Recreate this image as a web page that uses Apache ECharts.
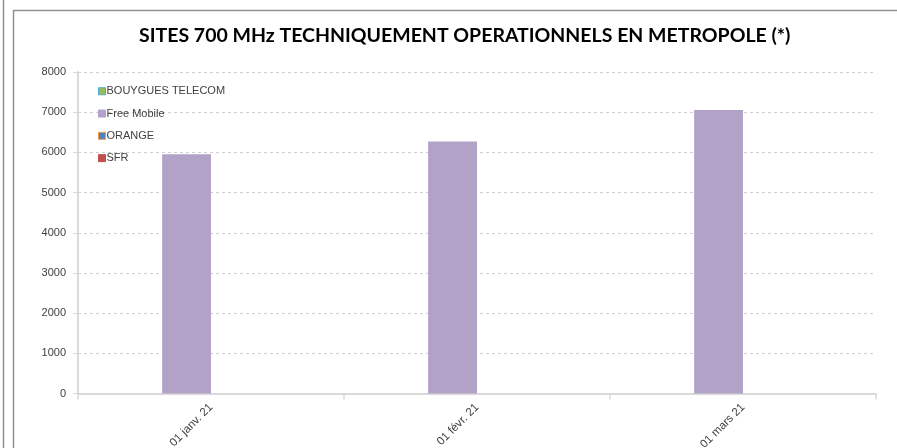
<!DOCTYPE html>
<html>
<head>
<meta charset="utf-8">
<script src="https://cdn.jsdelivr.net/npm/echarts@6/dist/echarts.min.js"></script>
<style>
html,body{margin:0;padding:0;background:#fff;}
#chart{width:897px;height:448px;}
</style>
</head>
<body>
<div id="chart"></div>
<script>
var categories = ['01 janv. 21', '01 févr. 21', '01 mars 21'];
var seriesNames = ['BOUYGUES TELECOM', 'Free Mobile', 'ORANGE', 'SFR'];
var bouyguesValues = [null, null, null];
var freeValues = [5955, 6270, 7055];
var orangeValues = [null, null, null];
var sfrValues = [null, null, null];
var yTicks = [0, 1000, 2000, 3000, 4000, 5000, 6000, 7000, 8000];

var chart = echarts.init(document.getElementById('chart'), null, {renderer: 'canvas'});
var fillColors = ['#9BBB59', '#B2A2C7', '#4F81BD', '#C0504D'];
var borderColors = ['#4BACC6', '#B2A2C7', '#F79646', '#C0504D'];
var dataSets = [bouyguesValues, freeValues, orangeValues, sfrValues];

var series = seriesNames.map(function (n, i) {
  return {
    name: n,
    type: 'bar',
    data: dataSets[i],
    barGap: '0%',
    barCategoryGap: '26.5%',
    itemStyle: {color: fillColors[i], borderColor: borderColors[i], borderWidth: 0},
    emphasis: {disabled: true}
  };
});

chart.setOption({
  animation: false,
  backgroundColor: '#ffffff',
  title: {
    text: 'SITES 700 MHz TECHNIQUEMENT OPERATIONNELS EN METROPOLE (*)',
    left: 134,
    top: 21,
    textStyle: {fontFamily: 'Lato', fontWeight: 'bold', fontSize: 19.5, color: '#000000'}
  },
  legend: {
    orient: 'vertical',
    left: 93,
    top: 80,
    itemWidth: 7,
    itemHeight: 7,
    itemGap: 9.8,
    icon: 'rect',
    data: seriesNames.map(function (n, i) {
      return {name: n, itemStyle: {color: fillColors[i], borderColor: borderColors[i], borderWidth: 1}};
    }),
    textStyle: {fontFamily: 'Liberation Sans', fontSize: 11, lineHeight: 12.5, color: '#404040', padding: [0, 0, 0, -4]}
  },
  grid: {left: 78, right: 21, top: 72, bottom: 54.5, containLabel: false, outerBoundsMode: 'none'},
  xAxis: {
    type: 'category',
    data: categories,
    axisLine: {lineStyle: {color: '#d9d9d9', width: 2}},
    axisTick: {show: true, length: 6, lineStyle: {color: '#d9d9d9', width: 1.5}},
    axisLabel: {rotate: 45, fontFamily: 'Liberation Sans', fontSize: 11.5, color: '#404040', margin: 12}
  },
  yAxis: {
    type: 'value',
    min: 0,
    max: 8000,
    interval: 1000,
    axisLine: {show: true, lineStyle: {color: '#d9d9d9', width: 2}},
    axisTick: {show: true, length: 5, lineStyle: {color: '#d9d9d9'}},
    axisLabel: {fontFamily: 'Liberation Sans', fontSize: 11, color: '#404040', margin: 12,
      formatter: function (v) { return yTicks.indexOf(v) >= 0 ? String(v) : ''; }},
    splitLine: {show: true, lineStyle: {color: '#d0d0d0', type: [3, 3], width: 1}}
  },
  graphic: [
    {type: 'line', shape: {x1: 3.5, y1: 0, x2: 3.5, y2: 448}, style: {stroke: '#909090', lineWidth: 1.5}, silent: true},
    {type: 'polyline', shape: {points: [[13.5, 448], [13.5, 10.5], [897, 10.5]]}, style: {stroke: '#909090', lineWidth: 1.5, fill: null}, silent: true}
  ],
  series: series
});
</script>
</body>
</html>
